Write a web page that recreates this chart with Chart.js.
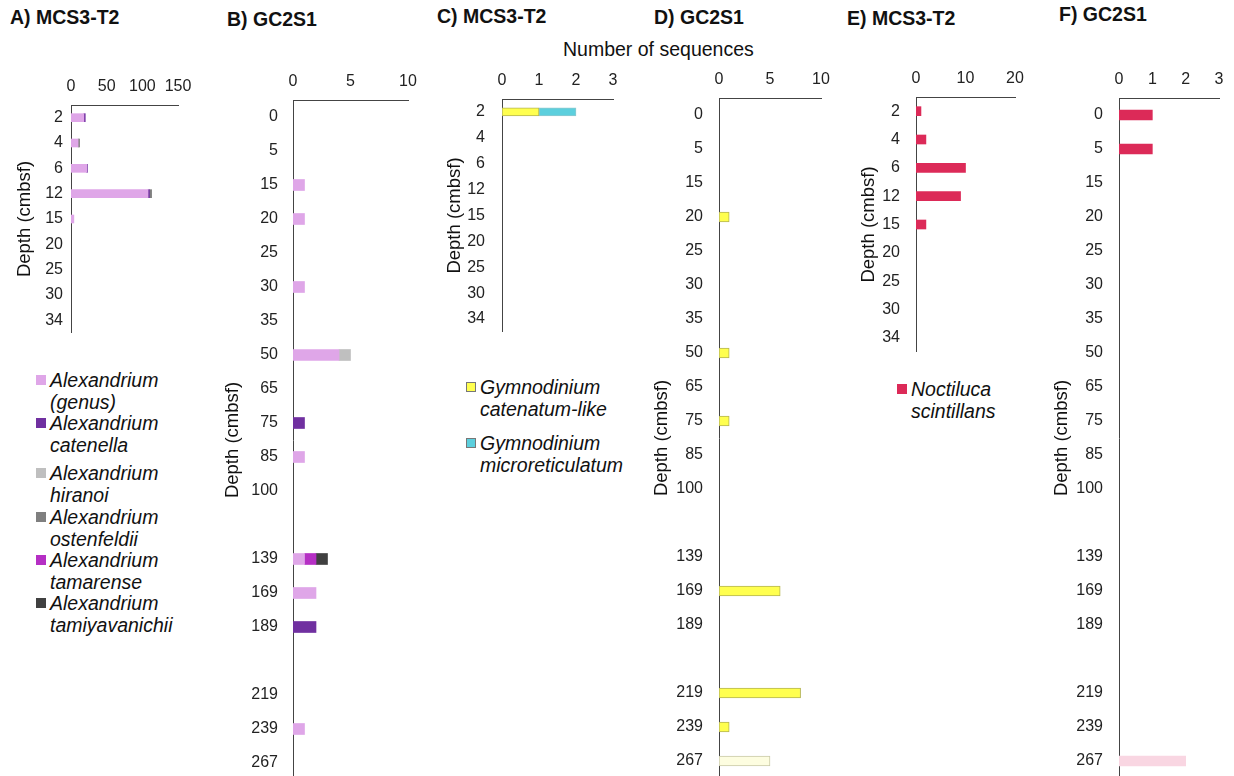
<!DOCTYPE html>
<html>
<head>
<meta charset="utf-8">
<script src="https://cdn.jsdelivr.net/npm/chart.js@4.4.1/dist/chart.umd.min.js"></script>
<style>
  body { margin: 0; width: 1234px; height: 776px; overflow: hidden; background: #fff; position: relative; font-family: Arial, "Liberation Sans", sans-serif; color: #111; }
  .hdr { position: absolute; font-weight: bold; font-size: 19.5px; white-space: nowrap; }
  .axtitle { position: absolute; font-size: 19.5px; white-space: nowrap; }
  .box { position: absolute; }
  .leg { position: absolute; font-style: italic; font-size: 19.5px; line-height: 22px; }
  .leg .item { position: absolute; left: 0; padding-left: 14px; white-space: nowrap; }
  .leg .sw { position: absolute; left: 0; top: 6px; width: 10px; height: 10px; box-sizing: border-box; }
</style>
</head>
<body>
<div class="hdr" style="left:10px;top:6px">A) MCS3-T2</div>
<div class="hdr" style="left:227px;top:8px">B) GC2S1</div>
<div class="hdr" style="left:437px;top:5px">C) MCS3-T2</div>
<div class="hdr" style="left:654px;top:6px">D) GC2S1</div>
<div class="hdr" style="left:847px;top:7px">E) MCS3-T2</div>
<div class="hdr" style="left:1059px;top:3px">F) GC2S1</div>
<div class="axtitle" style="left:563px;top:38px">Number of sequences</div>

<div class="box" id="boxA"><canvas id="chartA"></canvas></div>
<div class="box" id="boxB"><canvas id="chartB"></canvas></div>
<div class="box" id="boxC"><canvas id="chartC"></canvas></div>
<div class="box" id="boxD"><canvas id="chartD"></canvas></div>
<div class="box" id="boxE"><canvas id="chartE"></canvas></div>
<div class="box" id="boxF"><canvas id="chartF"></canvas></div>

<div class="leg" id="legA" style="left:36px;top:369px"></div>
<div class="leg" id="legC" style="left:466px;top:376px"></div>
<div class="leg" id="legE" style="left:897px;top:378px"></div>

<script>
// depth categories
const depthsMCS = ['2', '4', '6', '12', '15', '20', '25', '30', '34'];
const depthsGC = ['0', '5', '15', '20', '25', '30', '35', '50', '65', '75', '85', '100', '', '139', '169', '189', '', '219', '239', '267'];

// A) MCS3-T2, Alexandrium
const aGenus = [18, 10, 22, 108, 4, 0, 0, 0, 0];
const aCatenella = [2, 0, 1, 2, 0, 0, 0, 0, 0];
const aHiranoi = [0, 0, 0, 0, 0, 0, 0, 0, 0];
const aOstenfeldii = [0, 2, 0, 3, 0, 0, 0, 0, 0];
const aTamarense = [0, 0, 0, 0, 0, 0, 0, 0, 0];
const aTamiya = [0, 0, 0, 0, 0, 0, 0, 0, 0];

// B) GC2S1, Alexandrium
const bGenus = [0, 0, 1, 1, 0, 1, 0, 4, 0, 0, 1, 0, 0, 1, 2, 0, 0, 0, 1, 0];
const bCatenella = [0, 0, 0, 0, 0, 0, 0, 0, 0, 1, 0, 0, 0, 0, 0, 2, 0, 0, 0, 0];
const bHiranoi = [0, 0, 0, 0, 0, 0, 0, 1, 0, 0, 0, 0, 0, 0, 0, 0, 0, 0, 0, 0];
const bOstenfeldii = [0, 0, 0, 0, 0, 0, 0, 0, 0, 0, 0, 0, 0, 0, 0, 0, 0, 0, 0, 0];
const bTamarense = [0, 0, 0, 0, 0, 0, 0, 0, 0, 0, 0, 0, 0, 1, 0, 0, 0, 0, 0, 0];
const bTamiya = [0, 0, 0, 0, 0, 0, 0, 0, 0, 0, 0, 0, 0, 1, 0, 0, 0, 0, 0, 0];

// C) MCS3-T2, Gymnodinium
const cCatenatum = [1, 0, 0, 0, 0, 0, 0, 0, 0];
const cMicro = [1, 0, 0, 0, 0, 0, 0, 0, 0];

// D) GC2S1, Gymnodinium
const dCatenatum = [0, 0, 0, 1, 0, 0, 0, 1, 0, 1, 0, 0, 0, 0, 6, 0, 0, 8, 1, 0];
const dPale = [0, 0, 0, 0, 0, 0, 0, 0, 0, 0, 0, 0, 0, 0, 0, 0, 0, 0, 0, 5];

// E) MCS3-T2, Noctiluca
const eNoctiluca = [1, 2, 10, 9, 2, 0, 0, 0, 0];

// F) GC2S1, Noctiluca
const fNoctiluca = [1, 1, 0, 0, 0, 0, 0, 0, 0, 0, 0, 0, 0, 0, 0, 0, 0, 0, 0, 0];
const fPale = [0, 0, 0, 0, 0, 0, 0, 0, 0, 0, 0, 0, 0, 0, 0, 0, 0, 0, 0, 2];

const COL = {
  genus: '#dfa6e8', catenella: '#7030a0', hiranoi: '#bfbfbf', ostenfeldii: '#7f7f7f',
  tamarense: '#b52fc4', tamiya: '#404040', yellow: '#ffff4f', cyan: '#5ccfdd',
  noctiluca: '#dc2a58', paleYellow: '#fdfde0', palePink: '#f9d6e2'
};

const FAM = 'Arial, "Liberation Sans", sans-serif';
const tickFont = { family: FAM, size: 16 };

function ds(label, data, bg, border) {
  return {
    label,
    data: data.map(v => (v ? v : null)), // empty cells draw nothing
    backgroundColor: bg,
    borderColor: border || bg,
    borderWidth: border ? 1 : 0,
    borderSkipped: false
  };
}

function panel(id, p) {
  const box = document.getElementById('box' + id);
  box.style.left = (p.plotLeft - p.yw) + 'px';
  box.style.top = (p.plotTop - 40) + 'px';
  box.style.width = (p.yw + p.plotW + 22) + 'px';
  box.style.height = (40 + p.plotH) + 'px';
  p.datasets.forEach(d => { d.barThickness = p.bar; });
  return new Chart(document.getElementById('chart' + id), {
    type: 'bar',
    data: { labels: p.labels, datasets: p.datasets },
    options: {
      indexAxis: 'y',
      responsive: true,
      maintainAspectRatio: false,
      animation: false,
      layout: { padding: { left: 0, right: 22, top: 0, bottom: 0 } },
      plugins: { legend: { display: false }, tooltip: { enabled: false } },
      scales: {
        x: {
          position: 'top', stacked: true, min: 0, max: p.max,
          ticks: { stepSize: p.step, padding: 9, font: tickFont, color: '#222', maxRotation: 0, autoSkip: false },
          grid: { display: false, drawTicks: false },
          border: { display: true, color: '#444', width: 1 },
          afterFit: (s) => { s.height = 40; s.paddingLeft = 0; s.paddingRight = 0; }
        },
        y: {
          stacked: true,
          ticks: { padding: p.tickPad, font: tickFont, color: '#222', autoSkip: false },
          grid: { display: false, drawTicks: false },
          border: { display: true, color: '#444', width: 1 },
          title: { display: true, text: 'Depth (cmbsf)', font: { family: FAM, size: 18.5 }, color: '#111', padding: 0 },
          afterFit: (s) => { s.width = p.yw; s.paddingTop = 0; s.paddingBottom = 0; }
        }
      }
    }
  });
}

panel('A', {
  plotLeft: 71, plotTop: 105, plotW: 107, plotH: 228, yw: 57, tickPad: 8, bar: 8,
  max: 150, step: 50, labels: depthsMCS,
  datasets: [
    ds('Alexandrium (genus)', aGenus, COL.genus),
    ds('Alexandrium catenella', aCatenella, COL.catenella),
    ds('Alexandrium hiranoi', aHiranoi, COL.hiranoi),
    ds('Alexandrium ostenfeldii', aOstenfeldii, COL.ostenfeldii),
    ds('Alexandrium tamarense', aTamarense, COL.tamarense),
    ds('Alexandrium tamiyavanichii', aTamiya, COL.tamiya)
  ]
});

panel('B', {
  plotLeft: 293, plotTop: 100, plotW: 115, plotH: 680, yw: 71, tickPad: 15, bar: 11,
  max: 10, step: 5, labels: depthsGC,
  datasets: [
    ds('Alexandrium (genus)', bGenus, COL.genus),
    ds('Alexandrium catenella', bCatenella, COL.catenella),
    ds('Alexandrium hiranoi', bHiranoi, COL.hiranoi),
    ds('Alexandrium ostenfeldii', bOstenfeldii, COL.ostenfeldii),
    ds('Alexandrium tamarense', bTamarense, COL.tamarense),
    ds('Alexandrium tamiyavanichii', bTamiya, COL.tamiya)
  ]
});

panel('C', {
  plotLeft: 502, plotTop: 99, plotW: 111, plotH: 233, yw: 58, tickPad: 17, bar: 8,
  max: 3, step: 1, labels: depthsMCS,
  datasets: [
    ds('Gymnodinium catenatum-like', cCatenatum, COL.yellow, '#b5b553'),
    ds('Gymnodinium microreticulatum', cMicro, COL.cyan, '#8fc9cf')
  ]
});

panel('D', {
  plotLeft: 719, plotTop: 98, plotW: 102, plotH: 680, yw: 68, tickPad: 16, bar: 10,
  max: 10, step: 5, labels: depthsGC,
  datasets: [
    ds('Gymnodinium catenatum-like', dCatenatum, COL.yellow, '#b5b553'),
    ds('Gymnodinium catenatum-like', dPale, COL.paleYellow, '#c9c9a8')
  ]
});

panel('E', {
  plotLeft: 916, plotTop: 97, plotW: 99, plotH: 255, yw: 58, tickPad: 16, bar: 9,
  max: 20, step: 10, labels: depthsMCS,
  datasets: [ds('Noctiluca scintillans', eNoctiluca, COL.noctiluca)]
});

panel('F', {
  plotLeft: 1119, plotTop: 98, plotW: 100, plotH: 680, yw: 68, tickPad: 16, bar: 10,
  max: 3, step: 1, labels: depthsGC,
  datasets: [
    ds('Noctiluca scintillans', fNoctiluca, COL.noctiluca),
    ds('Noctiluca scintillans', fPale, COL.palePink)
  ]
});

// HTML legends (two-line italic species names)
function legend(id, items, tops) {
  const el = document.getElementById(id);
  items.forEach((it, i) => {
    const d = document.createElement('div');
    d.className = 'item';
    d.style.top = tops[i] + 'px';
    const sw = document.createElement('span');
    sw.className = 'sw';
    sw.style.background = it.color;
    if (it.border) sw.style.border = '1px solid ' + it.border;
    d.appendChild(sw);
    d.appendChild(document.createTextNode(it.lines[0]));
    d.appendChild(document.createElement('br'));
    d.appendChild(document.createTextNode(it.lines[1]));
    el.appendChild(d);
  });
}

legend('legA', [
  { color: COL.genus, lines: ['Alexandrium', '(genus)'] },
  { color: COL.catenella, lines: ['Alexandrium', 'catenella'] },
  { color: COL.hiranoi, lines: ['Alexandrium', 'hiranoi'] },
  { color: COL.ostenfeldii, lines: ['Alexandrium', 'ostenfeldii'] },
  { color: COL.tamarense, lines: ['Alexandrium', 'tamarense'] },
  { color: COL.tamiya, lines: ['Alexandrium', 'tamiyavanichii'] }
], [0, 43, 93, 137, 180, 223]);

legend('legC', [
  { color: COL.yellow, border: '#777', lines: ['Gymnodinium', 'catenatum-like'] },
  { color: COL.cyan, border: '#777', lines: ['Gymnodinium', 'microreticulatum'] }
], [0, 56]);

legend('legE', [
  { color: COL.noctiluca, lines: ['Noctiluca', 'scintillans'] }
], [0]);
</script>
</body>
</html>
